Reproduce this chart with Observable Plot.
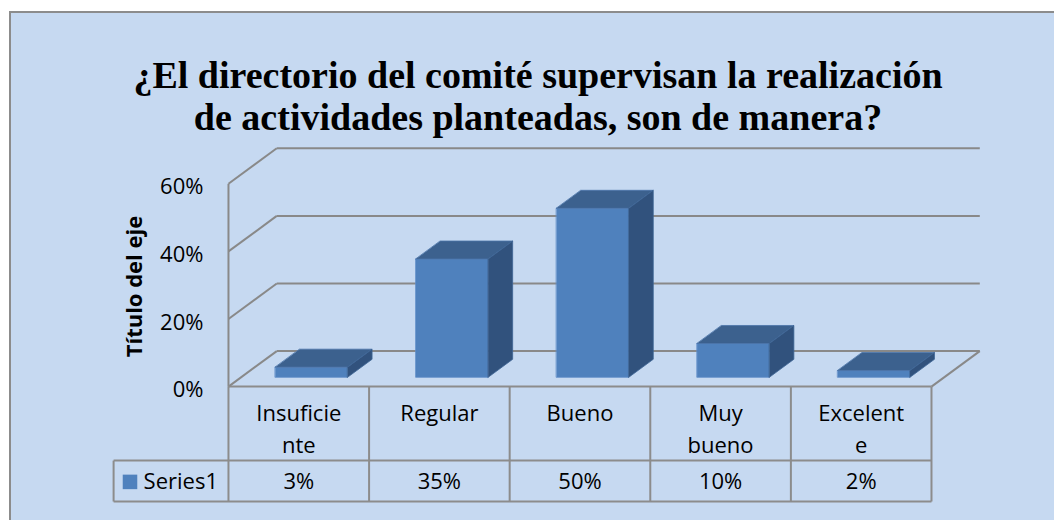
<!DOCTYPE html>
<html><head><meta charset="utf-8">
<script src="https://cdn.jsdelivr.net/npm/d3@7"></script>
<script src="https://cdn.jsdelivr.net/npm/@observablehq/plot@0.6"></script>
<style>
html,body{margin:0;padding:0;background:#fff;}
#wrap{position:relative;width:1054px;height:520px;overflow:hidden;}
#bg{position:absolute;left:9px;top:11px;width:1100px;height:600px;background:#C6D9F1;border:2px solid #8C8C8C;}
#title{position:absolute;left:0;width:1076px;top:54px;text-align:center;font-family:"Liberation Serif","Times New Roman",serif;font-weight:bold;font-size:38px;line-height:42px;color:#000;}
#chart{position:absolute;left:0;top:0;}
</style></head><body>
<div id="wrap"><div id="bg"></div><div id="title">¿El directorio del comité supervisan la realización<br>de actividades planteadas, son de manera?</div><div id="chart"></div></div>
<script>
// ---- data ----
const categories = ["Insuficiente", "Regular", "Bueno", "Muy bueno", "Excelente"];
const categoryLabels = [["Insuficie", "nte"], ["Regular"], ["Bueno"], ["Muy", "bueno"], ["Excelent", "e"]];
const values = [3, 35, 50, 10, 2];
const yTicks = [0, 20, 40, 60];
const seriesName = "Series1";
const yAxisTitle = "Título del eje";

// ---- 3D layout constants (oblique projection in data units) ----
const DX = 0.3435, DY = 10.5;      // full depth offset
const D0 = 0.262, D1 = 0.769;      // bar front/back depth
const BW = 0.514;                  // bar width (band units)
const X0 = -0.817, X1 = 5.35, Y0 = -34, Y1 = 60;
const ROW1 = -21.9;                // bottom of category row in table
const n = categories.length;
const yMax = d3.max(yTicks);

const P = (x, v, d) => ({x: x + d * DX, y: v + d * DY});

const frontFaces = [], topFaces = [], sideFaces = [];
values.forEach((v, i) => {
  const xl = i + 0.5 - BW / 2, xr = i + 0.5 + BW / 2;
  frontFaces.push(...[P(xl, 0, D0), P(xr, 0, D0), P(xr, v, D0), P(xl, v, D0)].map(p => ({...p, id: i})));
  topFaces.push(...[P(xl, v, D0), P(xr, v, D0), P(xr, v, D1), P(xl, v, D1)].map(p => ({...p, id: i})));
  sideFaces.push(...[P(xr, 0, D0), P(xr, 0, D1), P(xr, v, D1), P(xr, v, D0)].map(p => ({...p, id: i})));
});

const grid = yTicks.flatMap(t => [
  {a: P(0, t, 0), b: P(0, t, 1)},
  {a: P(0, t, 1), b: P(n, t, 1)}
]);
grid.push({a: P(0, 0, 0), b: P(0, yMax, 0)});
grid.push({a: P(n, 0, 0), b: P(n, 0, 1)});

const table = [
  {a: {x: 0, y: 0}, b: {x: n, y: 0}},
  {a: {x: X0, y: ROW1}, b: {x: n, y: ROW1}},
  {a: {x: X0, y: Y0}, b: {x: n, y: Y0}},
  {a: {x: X0, y: ROW1}, b: {x: X0, y: Y0}},
  ...d3.range(n + 1).map(k => ({a: {x: k, y: 0}, b: {x: k, y: Y0}}))
];

const link = (data, opts) => Plot.link(data, {x1: d => d.a.x, y1: d => d.a.y, x2: d => d.b.x, y2: d => d.b.y, ...opts});
const font = {fontFamily: "Open Sans", fontSize: 22, fill: "#000"};
const labelRows = categoryLabels.map((l, i) => ({i, l}));

const chart = Plot.plot({
  width: 1054, height: 520,
  marginLeft: 113.1, marginRight: 73.8, marginTop: 183.3, marginBottom: 19,
  x: {domain: [X0, X1], axis: null},
  y: {domain: [Y0, Y1], axis: null},
  style: {background: "transparent", overflow: "visible"},
  marks: [
    link(grid, {stroke: "#898989", strokeWidth: 2}),
    Plot.line(frontFaces, {x: "x", y: "y", z: "id", fill: "#4F81BD", stroke: "#5D8CC8", strokeWidth: 0.8, curve: "linear-closed"}),
    Plot.line(topFaces, {x: "x", y: "y", z: "id", fill: "#3C618E", stroke: "#4A74A8", strokeWidth: 0.8, curve: "linear-closed"}),
    Plot.line(sideFaces, {x: "x", y: "y", z: "id", fill: "#31527D", stroke: "#3E6494", strokeWidth: 0.8, curve: "linear-closed"}),
    link(table, {stroke: "#8C8C8C", strokeWidth: 2}),
    Plot.text(yTicks, {x: () => 0, y: d => d, text: d => d + "%", textAnchor: "end", dx: -25, dy: 3.5, ...font}),
    Plot.text([yAxisTitle], {x: () => X0, y: () => 29.6, dx: 21, rotate: -90, text: d => d, ...font, fontWeight: "bold"}),
    Plot.text(labelRows, {x: d => d.i + 0.5, y: () => -8.08, text: d => d.l[0], ...font}),
    Plot.text(labelRows.filter(d => d.l.length > 1), {x: d => d.i + 0.5, y: () => -17.46, text: d => d.l[1], ...font}),
    Plot.text(values, {x: (d, i) => i + 0.5, y: () => -28.3, text: d => d + "%", ...font}),
    Plot.dot([seriesName], {x: () => X0, y: () => -28.2, dx: 16.4, symbol: "square", r: 8.2, fill: "#4F81BD"}),
    Plot.text([seriesName], {x: () => X0, y: () => -28.3, dx: 30, text: d => d, textAnchor: "start", ...font})
  ]
});
document.getElementById("chart").append(chart);
</script>
</body></html>
